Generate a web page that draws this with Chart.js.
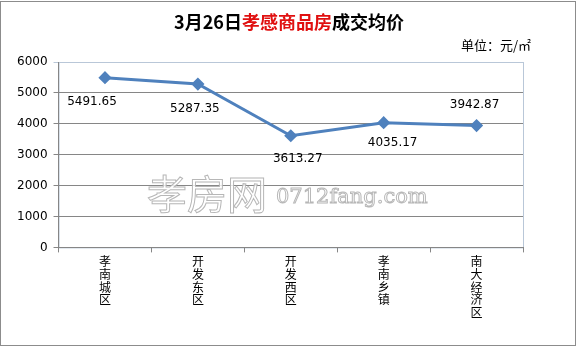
<!DOCTYPE html>
<html>
<head>
<meta charset="utf-8">
<script src="https://cdn.jsdelivr.net/npm/chart.js@4.4.1/dist/chart.umd.min.js"></script>
<style>
  html, body { margin: 0; padding: 0; background: #fff; }
  #wrap { width: 578px; height: 347px; position: relative; }
</style>
</head>
<body>
<div id="wrap"><canvas id="c" width="578" height="347"></canvas></div>
<script>
// data
var districts = ['孝南城区', '开发东区', '开发西区', '孝南乡镇', '南大经济区'];
var avgPrice = [5491.65, 5287.35, 3613.27, 4035.17, 3942.87];
var yTicks = [0, 1000, 2000, 3000, 4000, 5000, 6000];

var titleParts = [
  { text: '3月26日', color: '#000' },
  { text: '孝感商品房', color: '#e01010' },
  { text: '成交均价', color: '#000' }
];
var unitText = '单位：元/㎡';
var watermark = '孝房网';
var watermarkUrl = '0712fang.com';

var CJK = '"Noto Sans CJK SC", "DejaVu Sans", sans-serif';

// stacked vertical category labels
function verticalLabel(s) {
  return s.split('');
}

// frame, title, unit and watermark
var decorPlugin = {
  id: 'decor',
  beforeDraw: function(chart) {
    var ctx = chart.ctx;
    var area = chart.chartArea;
    ctx.save();
    ctx.fillStyle = '#fff';
    ctx.fillRect(0, 0, chart.width, chart.height);
    ctx.strokeStyle = '#8c8c8c';
    ctx.lineWidth = 1;
    ctx.strokeRect(0.5, 1.5, chart.width - 3, chart.height - 3);

    // plot border (light)
    ctx.strokeStyle = '#b9c7d8';
    ctx.strokeRect(area.left + 0.5, area.top + 0.5, area.right - area.left, area.bottom - area.top);
    ctx.restore();
  },
  afterDatasetsDraw: function(chart) {
    var ctx = chart.ctx;
    ctx.save();
    // watermark, outlined, sits over the grid
    ctx.lineWidth = 1;
    ctx.strokeStyle = 'rgba(175,175,175,0.9)';
    ctx.fillStyle = 'rgba(255,255,255,0.8)';
    ctx.textAlign = 'left';
    ctx.textBaseline = 'alphabetic';
    ctx.font = '40px ' + CJK;
    ctx.fillText(watermark, 147, 209);
    ctx.strokeText(watermark, 147, 209);
    ctx.font = '21px "DejaVu Serif", serif';
    ctx.fillText(watermarkUrl, 276, 203);
    ctx.strokeText(watermarkUrl, 276, 203);
    ctx.restore();
  },
  afterDraw: function(chart) {
    var ctx = chart.ctx;
    ctx.save();
    // title
    ctx.font = 'bold 18px ' + CJK;
    ctx.textBaseline = 'middle';
    var total = 0;
    titleParts.forEach(function(p) { total += ctx.measureText(p.text).width; });
    var x = 289 - total / 2;
    titleParts.forEach(function(p) {
      ctx.fillStyle = p.color;
      ctx.textAlign = 'left';
      ctx.fillText(p.text, x, 22);
      x += ctx.measureText(p.text).width;
    });

    // unit
    ctx.font = '13px ' + CJK;
    ctx.fillStyle = '#000';
    ctx.textAlign = 'right';
    ctx.fillText(unitText, 531, 45);
    ctx.restore();
  }
};

// value labels next to points (offsets follow the original layout)
var labelShift = [[-13, 24], [-3, 25], [7, 23], [9, 20], [-2, -21]];
var valueLabels = {
  id: 'valueLabels',
  afterDatasetsDraw: function(chart) {
    var ctx = chart.ctx;
    var meta = chart.getDatasetMeta(0);
    ctx.save();
    ctx.font = '12px "DejaVu Sans", sans-serif';
    ctx.fillStyle = '#000';
    ctx.textAlign = 'center';
    ctx.textBaseline = 'middle';
    meta.data.forEach(function(pt, i) {
      var s = labelShift[i];
      ctx.fillText(avgPrice[i].toFixed(2), pt.x + s[0], pt.y + s[1]);
    });
    ctx.restore();
  }
};

new Chart(document.getElementById('c'), {
  type: 'line',
  data: {
    labels: districts.map(verticalLabel),
    datasets: [{
      data: avgPrice,
      borderColor: '#4f81bd',
      backgroundColor: '#4f81bd',
      borderWidth: 3,
      pointStyle: 'rectRot',
      pointRadius: 4.5,
      pointHoverRadius: 4.5,
      tension: 0,
      fill: false
    }]
  },
  options: {
    responsive: false,
    animation: false,
    devicePixelRatio: 1,
    layout: { padding: { top: 62, right: 55, left: 11, bottom: 25 } },
    plugins: {
      legend: { display: false },
      title: { display: false },
      tooltip: { enabled: false }
    },
    scales: {
      x: {
        offset: true,
        grid: {
          offset: true,
          drawOnChartArea: false,
          drawTicks: true,
          tickLength: 5,
          color: '#868686'
        },
        border: { color: '#868686' },
        ticks: {
          maxRotation: 0,
          autoSkip: false,
          color: '#000',
          padding: 3,
          font: { family: CJK, size: 12, lineHeight: 1.06 }
        }
      },
      y: {
        min: 0,
        max: 6000,
        afterBuildTicks: function(axis) {
          axis.ticks = yTicks.map(function(v) { return { value: v }; });
        },
        grid: {
          color: function(c) { return c.tick && c.tick.value === 6000 ? '#b9c7d8' : '#868686'; },
          tickLength: 5
        },
        border: { color: '#868686' },
        ticks: {
          color: '#000',
          padding: 6,
          font: { family: '"DejaVu Sans", sans-serif', size: 12 },
          callback: function(v) { return String(v); }
        }
      }
    }
  },
  plugins: [decorPlugin, valueLabels]
});
</script>
</body>
</html>
